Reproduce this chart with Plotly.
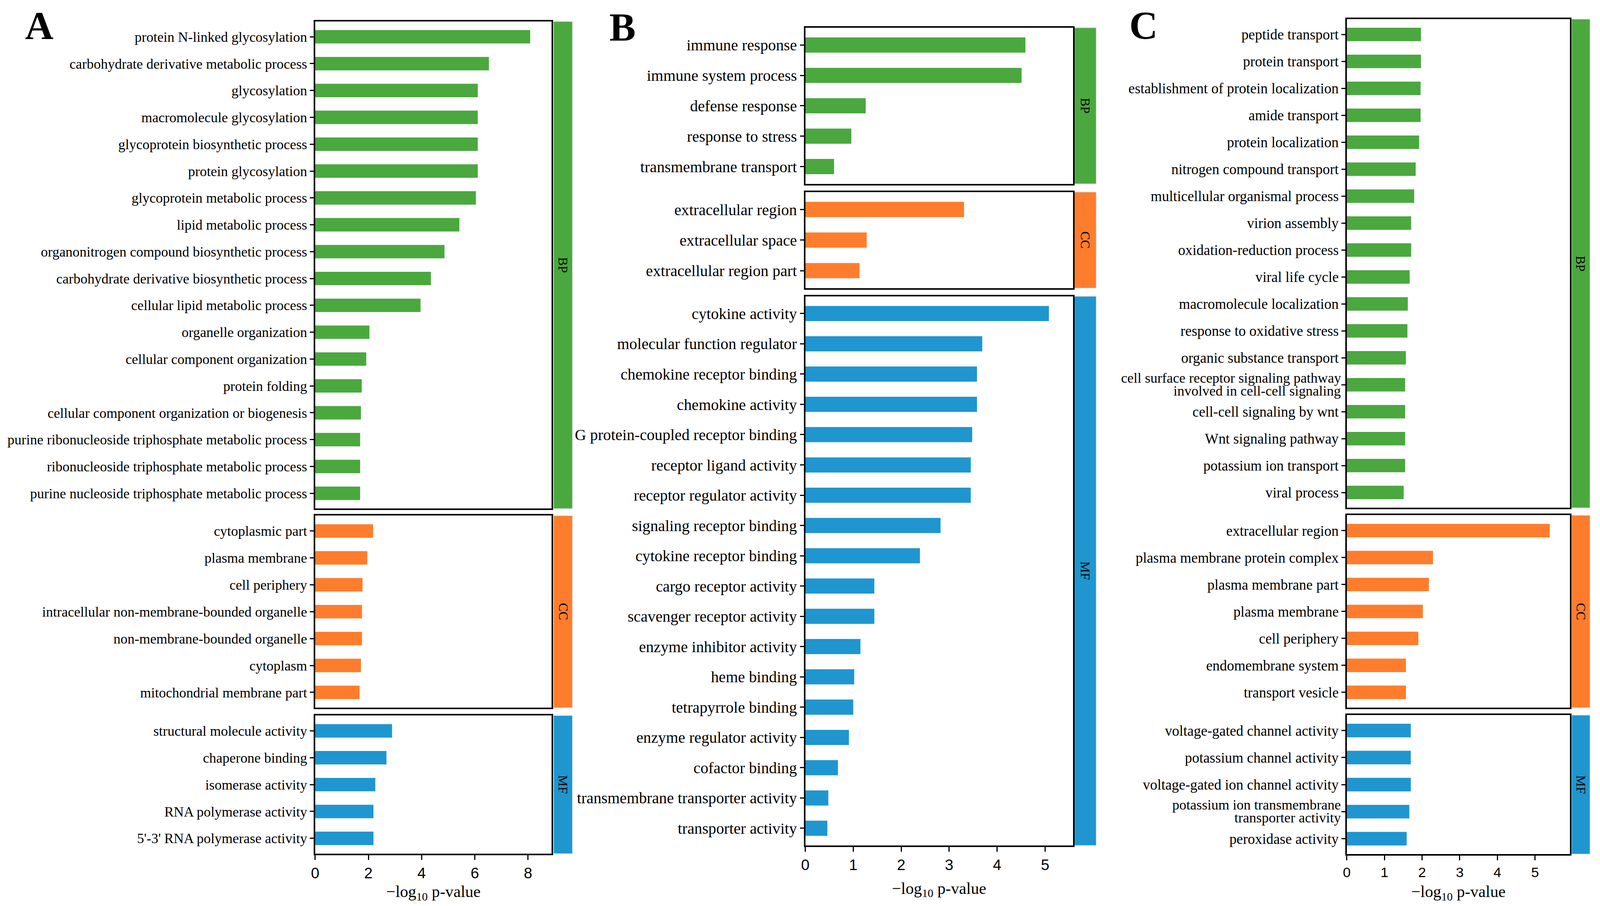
"""
GO enrichment bar charts (BP / CC / MF) for three comparisons, panels A-C.
"""

import plotly.graph_objects as go


# ---- data: -log10 p-value per GO term ----
A_BP_terms = ['protein N-linked glycosylation', 'carbohydrate derivative metabolic process', 'glycosylation',
              'macromolecule glycosylation', 'glycoprotein biosynthetic process', 'protein glycosylation',
              'glycoprotein metabolic process', 'lipid metabolic process', 'organonitrogen compound biosynthetic process',
              'carbohydrate derivative biosynthetic process', 'cellular lipid metabolic process', 'organelle organization',
              'cellular component organization', 'protein folding', 'cellular component organization or biogenesis',
              'purine ribonucleoside triphosphate metabolic process', 'ribonucleoside triphosphate metabolic process',
              'purine nucleoside triphosphate metabolic process']
A_BP_values = [8.08, 6.53, 6.11, 6.11, 6.11, 6.11, 6.04, 5.42, 4.86, 4.35, 3.96, 2.04, 1.92, 1.75, 1.72, 1.69, 1.69, 1.69]
A_CC_terms = ['cytoplasmic part', 'plasma membrane', 'cell periphery', 'intracellular non-membrane-bounded organelle',
              'non-membrane-bounded organelle', 'cytoplasm', 'mitochondrial membrane part']
A_CC_values = [2.18, 1.96, 1.78, 1.76, 1.76, 1.72, 1.67]
A_MF_terms = ['structural molecule activity', 'chaperone binding', 'isomerase activity', 'RNA polymerase activity',
              "5'-3' RNA polymerase activity"]
A_MF_values = [2.89, 2.68, 2.26, 2.19, 2.19]

B_BP_terms = ['immune response', 'immune system process', 'defense response', 'response to stress', 'transmembrane transport']
B_BP_values = [4.59, 4.51, 1.26, 0.96, 0.60]
B_CC_terms = ['extracellular region', 'extracellular space', 'extracellular region part']
B_CC_values = [3.31, 1.28, 1.13]
B_MF_terms = ['cytokine activity', 'molecular function regulator', 'chemokine receptor binding', 'chemokine activity',
              'G protein-coupled receptor binding', 'receptor ligand activity', 'receptor regulator activity',
              'signaling receptor binding', 'cytokine receptor binding', 'cargo receptor activity',
              'scavenger receptor activity', 'enzyme inhibitor activity', 'heme binding', 'tetrapyrrole binding',
              'enzyme regulator activity', 'cofactor binding', 'transmembrane transporter activity', 'transporter activity']
B_MF_values = [5.08, 3.69, 3.58, 3.58, 3.48, 3.45, 3.45, 2.82, 2.39, 1.44, 1.44, 1.15, 1.02, 1.00, 0.91, 0.68, 0.48, 0.46]

C_BP_terms = ['peptide transport', 'protein transport', 'establishment of protein localization', 'amide transport',
              'protein localization', 'nitrogen compound transport', 'multicellular organismal process', 'virion assembly',
              'oxidation-reduction process', 'viral life cycle', 'macromolecule localization', 'response to oxidative stress',
              'organic substance transport', 'cell surface receptor signaling pathway involved in cell-cell signaling',
              'cell-cell signaling by wnt', 'Wnt signaling pathway', 'potassium ion transport', 'viral process']
C_BP_values = [1.97, 1.97, 1.96, 1.96, 1.92, 1.83, 1.79, 1.71, 1.71, 1.67, 1.62, 1.61, 1.57, 1.55, 1.55, 1.55, 1.55, 1.51]
C_CC_terms = ['extracellular region', 'plasma membrane protein complex', 'plasma membrane part', 'plasma membrane',
              'cell periphery', 'endomembrane system', 'transport vesicle']
C_CC_values = [5.39, 2.29, 2.18, 2.02, 1.90, 1.57, 1.57]
C_MF_terms = ['voltage-gated channel activity', 'potassium channel activity', 'voltage-gated ion channel activity',
              'potassium ion transmembrane transporter activity', 'peroxidase activity']
C_MF_values = [1.70, 1.70, 1.70, 1.66, 1.59]

# long labels that wrap onto two lines in the figure
WRAPPED = {
    'cell surface receptor signaling pathway involved in cell-cell signaling':
        ('cell surface receptor signaling pathway', 'involved in cell-cell signaling'),
    'potassium ion transmembrane transporter activity':
        ('potassium ion transmembrane', 'transporter activity'),
}

GROUPS = ['BP', 'CC', 'MF']
COLORS = {'BP': '#4aa83f', 'CC': '#fe7d2d', 'MF': '#1f96cf'}

# ---- layout geometry, measured in pixels of the 4317x2320 reference ----
# the page comes out ~0.947x as wide (in css px) as the reference, about as tall;
# the body keeps its 8px margin
SX = 0.947
MARGIN = 8
WC = 4317 * SX - 2 * MARGIN
HC = 2320 - 2 * MARGIN
SERIF = 'Liberation Serif, Times New Roman, serif'
SANS = 'Liberation Sans, Arial, sans-serif'

def fx(X):
    return (X * SX - MARGIN) / WC

def fy(Y):
    return 1 - (Y - MARGIN) / HC

def fs(v, k=SX):
    return v * k

panels = [
    dict(name='A', x=(841, 1481), strip=(1486, 1537), xmax=8.89, dtick=2, font=38, tickfont=40,
         rows=[(55, 1303), (1321, 1813), (1833, 2187)], letter=(95, 66),
         data=[(A_BP_terms, A_BP_values), (A_CC_terms, A_CC_values), (A_MF_terms, A_MF_values)]),
    dict(name='B', x=(2167, 2891), strip=(2895, 2954), xmax=5.58, dtick=1, font=42.5, tickfont=40,
         rows=[(71, 471), (492, 738), (759, 2166)], letter=(1672, 70),
         data=[(B_BP_terms, B_BP_values), (B_CC_terms, B_CC_values), (B_MF_terms, B_MF_values)]),
    dict(name='C', x=(3632, 4236), strip=(4240, 4290), xmax=5.93, dtick=1, font=39, tickfont=37,
         rows=[(49, 1301), (1320, 1813), (1832, 2188)], letter=(3082, 66),
         data=[(C_BP_terms, C_BP_values), (C_CC_terms, C_CC_values), (C_MF_terms, C_MF_values)]),
]


fig = go.Figure()
shapes, annotations = [], []

for p, panel in enumerate(panels):
    for g, grp in enumerate(GROUPS):
        k = p * 3 + g + 1
        xa, ya = ('x' if k == 1 else 'x%d' % k), ('y' if k == 1 else 'y%d' % k)
        terms, values = panel['data'][g]
        n = len(terms)
        top, bot = panel['rows'][g]

        fig.add_trace(go.Bar(x=values, y=terms, orientation='h', width=0.5,
                             marker=dict(color=COLORS[grp], line_width=0),
                             xaxis=xa, yaxis=ya, showlegend=False, name=grp))

        last = g == 2
        xkey, ykey = xa.replace('x', 'xaxis'), ya.replace('y', 'yaxis')
        xaxis = dict(domain=[fx(panel['x'][0]), fx(panel['x'][1])], anchor=ya, range=[0, panel['xmax']],
                     dtick=panel['dtick'], showgrid=False, zeroline=False,
                     showline=True, mirror=True, linecolor='black', linewidth=3.8,
                     ticks='outside' if last else '', ticklen=12, tickwidth=3, tickcolor='black',
                     showticklabels=last,
                     tickfont=dict(family=SANS, size=fs(panel['tickfont'], 0.97), color='black'))
        if last:
            xaxis['title'] = dict(text='\u2212log<sub>10</sub> p-value', standoff=26,
                                  font=dict(family=SERIF, size=fs(43, 0.97), color='black'))
        fig.layout[xkey] = xaxis

        ticktext = [' ' if t in WRAPPED else t for t in terms]
        fig.layout[ykey] = dict(domain=[fy(bot), fy(top)], anchor=xa, type='category',
                                categoryorder='array', categoryarray=terms,
                                tickvals=terms, ticktext=ticktext,
                                range=[n - 0.43, -0.57], showgrid=False, zeroline=False,
                                showline=True, mirror=True, linecolor='black', linewidth=3.8,
                                ticks='outside', ticklen=fs(10), tickwidth=3, tickcolor='black',
                                tickfont=dict(family=SERIF, size=fs(panel['font']), color='black'))

        # two-line labels drawn as two annotations with tight spacing
        for t in terms:
            if t in WRAPPED:
                for line, dy in zip(WRAPPED[t], (17, -16)):
                    annotations.append(dict(text=line, xref=xa + ' domain', yref=ya, x=0, y=t,
                                            xanchor='right', yanchor='middle', xshift=-fs(14), yshift=dy,
                                            showarrow=False,
                                            font=dict(family=SERIF, size=fs(panel['font'] - 1), color='black')))

        # category strip on the right
        sl, sr = panel['strip']
        shapes.append(dict(type='rect', xref='paper', yref='paper',
                           x0=fx(sl), x1=fx(sr), y0=fy(bot), y1=fy(top),
                           fillcolor=COLORS[grp], line=dict(color='#dcdcdc', width=1.5), layer='below'))
        annotations.append(dict(text=grp, xref='paper', yref='paper',
                                x=fx((sl + sr) / 2), y=fy((top + bot) / 2),
                                textangle=90, showarrow=False, xanchor='center', yanchor='middle',
                                font=dict(family=SERIF, size=fs(34, 0.97), color='black')))

    # panel letter
    lx, ly = panel['letter']
    annotations.append(dict(text='<b>%s</b>' % panel['name'], xref='paper', yref='paper',
                            x=fx(lx), y=fy(ly), showarrow=False, xanchor='center', yanchor='middle',
                            font=dict(family=SERIF, size=fs(104, 0.97), color='black')))

# width follows the browser window; height fills it
fig.update_layout(autosize=True, height=HC, margin=dict(l=0, r=0, t=0, b=0),
                  plot_bgcolor='white', paper_bgcolor='white',
                  shapes=shapes, annotations=annotations, bargap=0.5)

fig.write_html("out.html")
